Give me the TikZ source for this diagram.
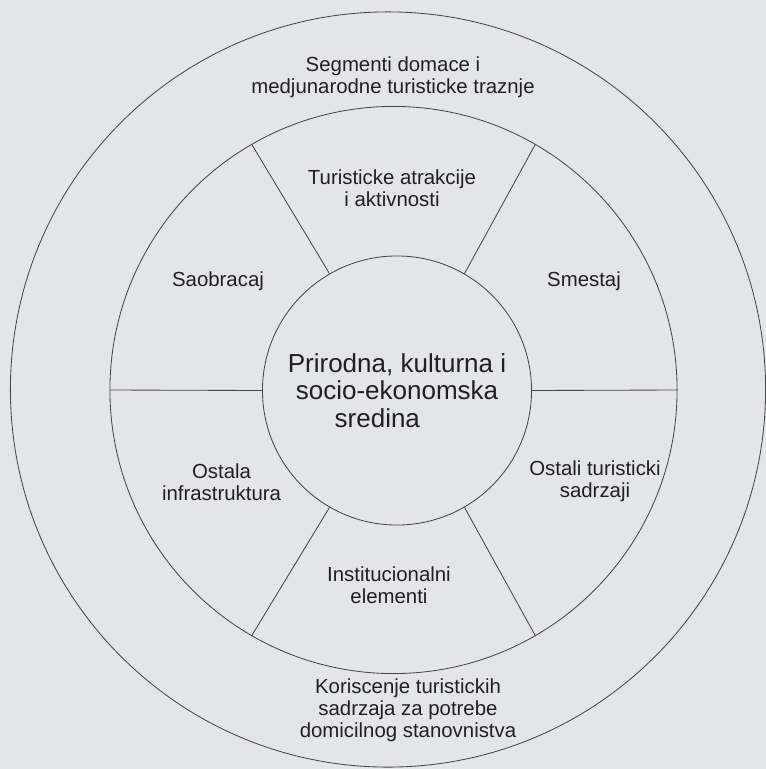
\documentclass[tikz,border=0pt]{standalone}
\usepackage{fontspec}
\setmainfont{Liberation Sans}
\definecolor{scanbg}{RGB}{228,229,233}
\definecolor{inkline}{RGB}{70,70,76}
\definecolor{inktext}{RGB}{32,32,36}
\begin{document}
\begin{tikzpicture}[x=0.025cm, y=-0.025cm,
  circ/.style={circle, draw=inkline, line width=0.6pt, inner sep=0pt},
  spoke/.style={draw=inkline, line width=0.6pt},
  ringlbl/.style={align=center, text=inktext, inner sep=0pt, font=\fontsize{14.5}{15.5}\selectfont}]
\useasboundingbox (0,0) rectangle (766,769);
\fill[scanbg] (0,0) rectangle (766,769);
\node[circ, minimum size=18.875cm] (outer) at (388,389.5){};
\node[circ, minimum size=14.175cm] (ring) at (393.5,390){};
\node[circ, minimum size=6.725cm, align=center, text=inktext, font=\fontsize{18.5}{19.6}\selectfont] (core) at (397,390.5){Prirodna, kulturna i\\socio-ekonomska\\sredina\hspace*{28pt}};
\draw[spoke](core.0) -- (ring.0);
\draw[spoke](core.60) -- (ring.60);
\draw[spoke](core.120) -- (ring.120);
\draw[spoke](core.180) -- (ring.180);
\draw[spoke](core.240) -- (ring.240);
\draw[spoke](core.300) -- (ring.300);
\node[ringlbl] (segment) at (393,77){Segmenti domace i\\medjunarodne turisticke traznje};
\node[ringlbl] (atrakcije) at (392,188){Turisticke atrakcije\\i aktivnosti};
\node[ringlbl] (saobracaj) at (218,281){Saobracaj};
\node[ringlbl] (smestaj) at (584,281){Smestaj};
\node[ringlbl] (infra) at (221.5,482){Ostala\\infrastruktura};
\node[ringlbl] (sadrzaji) at (595,481){Ostali turisticki\\sadrzaji};
\node[ringlbl] (institut) at (389,585){Institucionalni\\elementi};
\node[ringlbl] (domicil) at (408,710){Koriscenje turistickih\\sadrzaja za potrebe\\domicilnog stanovnistva};
\end{tikzpicture}
\end{document}
